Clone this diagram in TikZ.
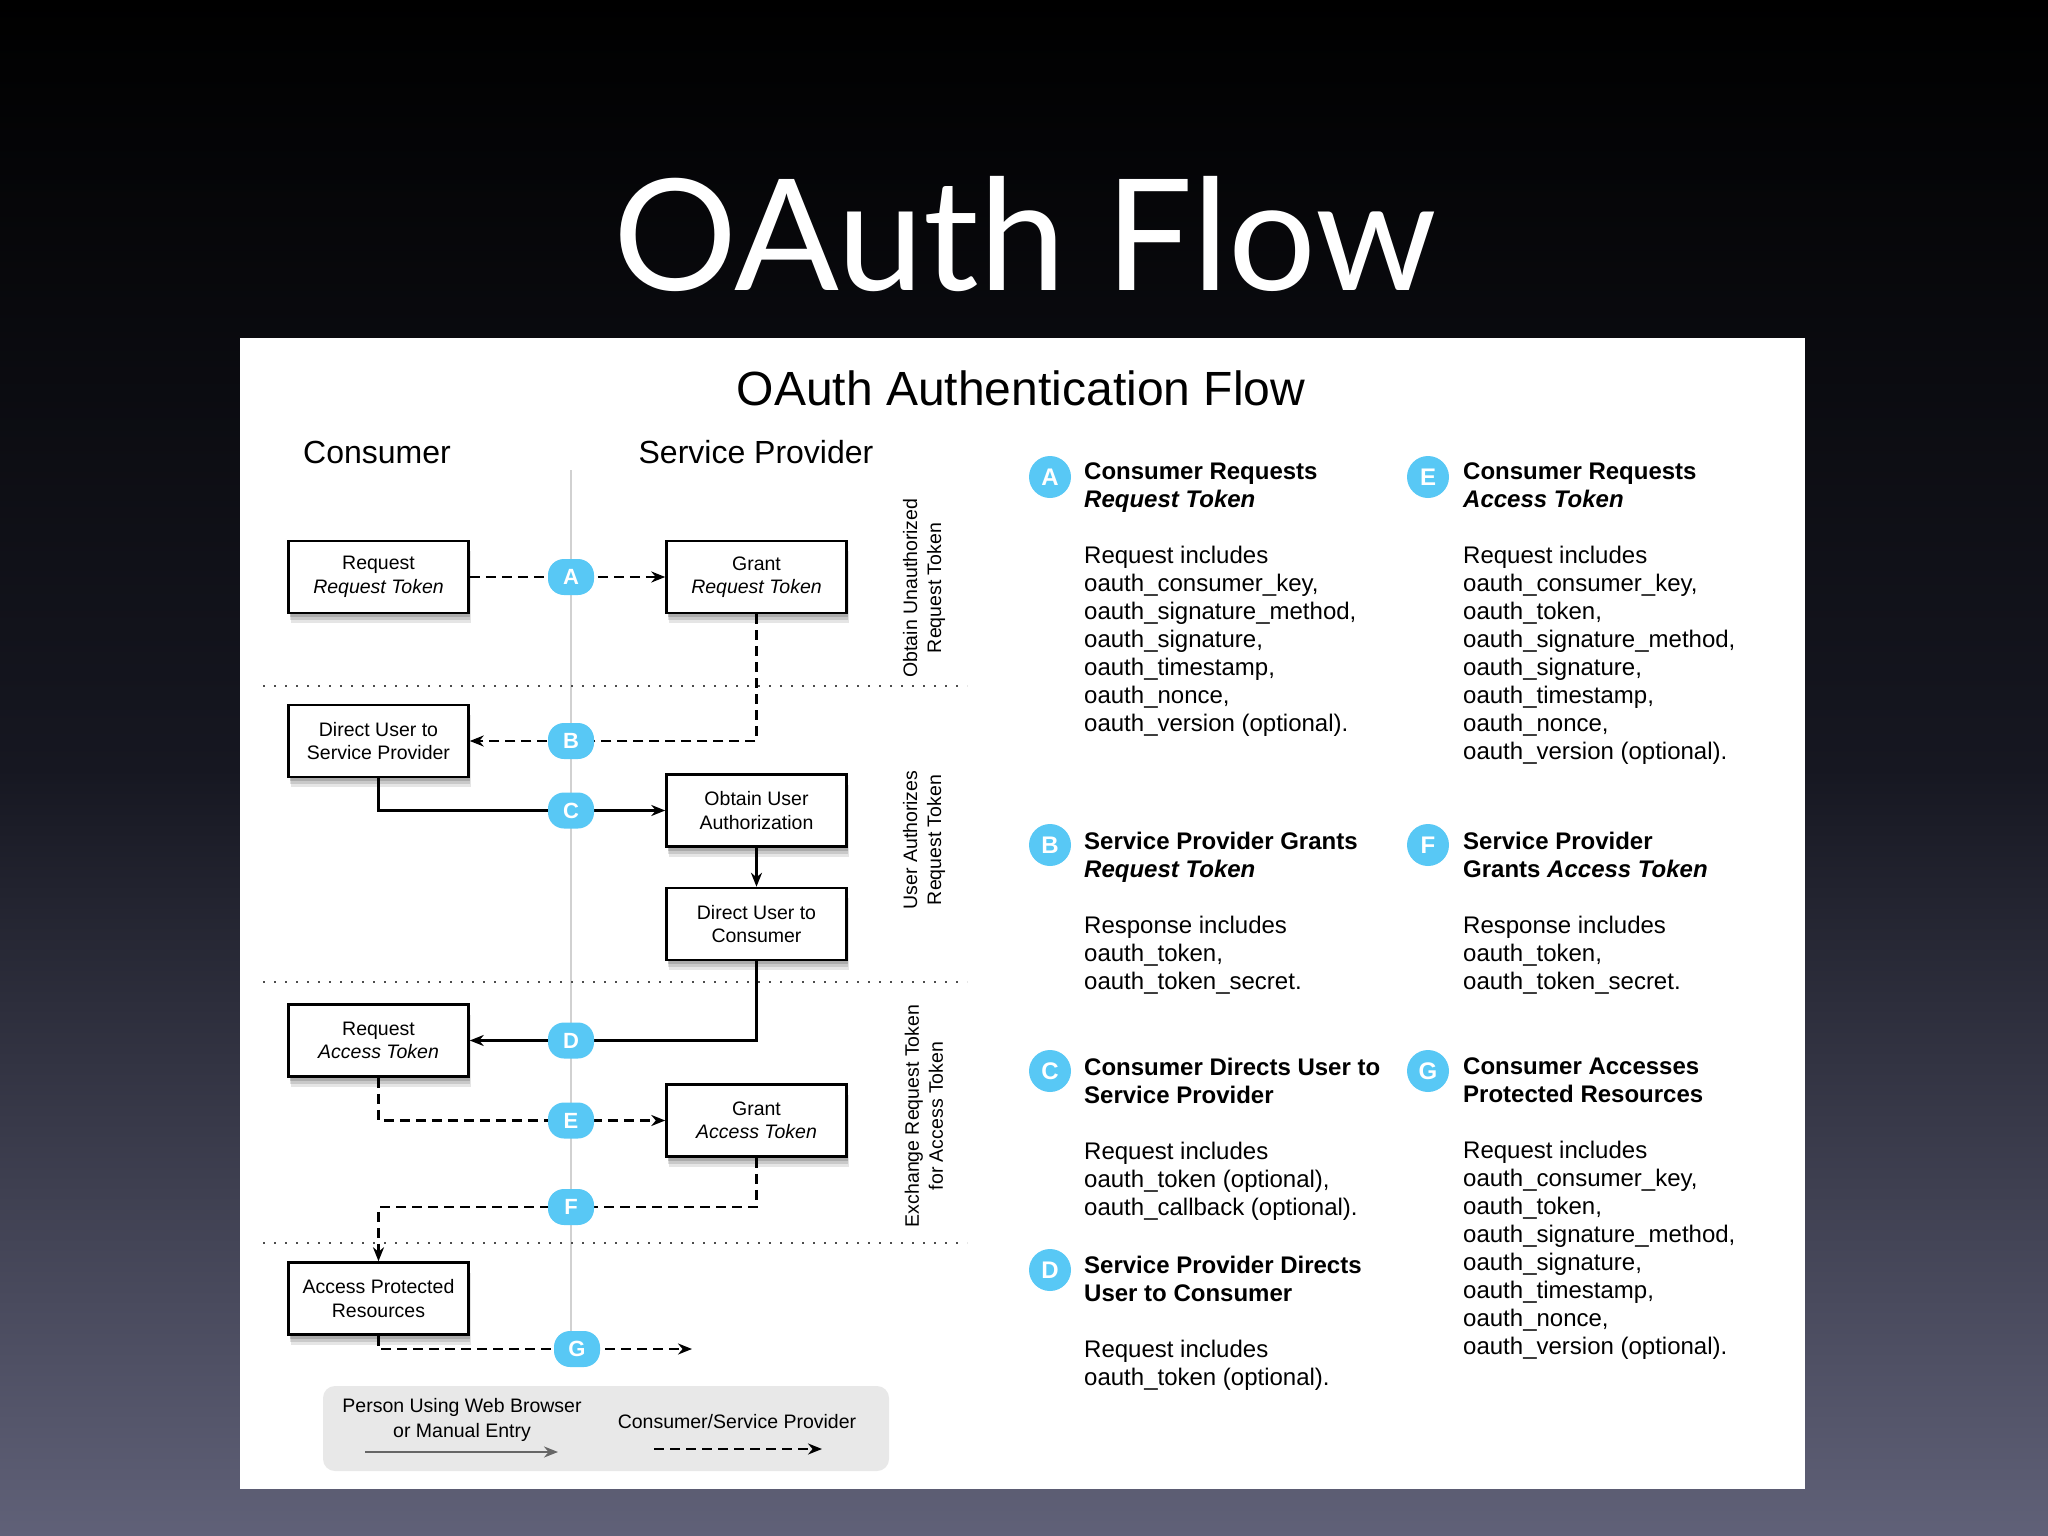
\documentclass[tikz,border=0pt]{standalone}
\usepackage{fontspec}
\setmainfont{Liberation Sans}
\newfontfamily\slidefont{Lato}
\usetikzlibrary{arrows.meta,positioning}
\definecolor{badgeblue}{RGB}{88,200,245}
\definecolor{slidebot}{RGB}{96,97,120}
\definecolor{slidemid}{RGB}{22,23,33}
\definecolor{legendgray}{RGB}{232,232,232}
\tikzset{
    stepbox/.style={
        draw,line width=2.5pt,fill=white,
        minimum width=180pt,minimum height=72pt,
        align=center,font=\fontsize{19.5}{23.5}\selectfont,
        preaction={fill=black,opacity=.10,transform canvas={xshift=2pt,yshift=-10pt}},
        preaction={fill=black,opacity=.12,transform canvas={xshift=1pt,yshift=-7pt}},
        preaction={fill=black,opacity=.15,transform canvas={xshift=1pt,yshift=-4pt}}
    },
    badge/.style={fill=badgeblue,text=white,rounded corners=16pt,
        minimum width=46pt,minimum height=36pt,inner sep=0pt,
        font=\fontsize{22}{22}\selectfont\bfseries},
    keybadge/.style={circle,fill=badgeblue,text=white,
        minimum size=42pt,inner sep=0pt,
        font=\fontsize{24}{24}\selectfont\bfseries},
    >={Stealth[length=14pt,width=11pt]},
    flow/.style={line width=2.5pt,->},
    msg/.style={flow,dash pattern=on 10pt off 6pt},
    separator/.style={line width=2pt,black!70,dash pattern=on 2pt off 9pt},
    lifeline/.style={line width=2.5pt,black!18},
    lane/.style={rotate=90,align=center,font=\fontsize{19.5}{24}\selectfont},
    note/.style={anchor=north west,align=left,inner sep=0pt,
        font=\fontsize{24}{28}\selectfont},
}
\begin{document}
\begin{tikzpicture}[x=1pt,y=-1pt]
    \useasboundingbox (0,0) rectangle (2048,1536);
    \shade[top color=black,bottom color=slidebot,middle color=slidemid] (0,0) rectangle (2048,1536);
    \node[font=\slidefont\fontsize{155}{160}\selectfont,text=white,anchor=base] (slidetitle) at (1025,290) {OAuth Flow};
    \fill[white] (240,338) rectangle (1805,1489);
    \node[font=\fontsize{48}{48}\selectfont,anchor=base] (charttitle) at (1021,405) {OAuth Authentication Flow};
    \node[font=\fontsize{32}{32}\selectfont] (consumer) at (377,452) {Consumer};
    \node[font=\fontsize{32}{32}\selectfont] (provider) at (756,452) {Service Provider};

    % lifeline and phases
    \draw[lifeline] (571,470) -- (571,1340);
    \foreach \y in {686,982,1243}
        \draw[separator] (263,\y) -- (967,\y);

    % steps
    \node[stepbox] (reqRT) at (378.5,577) {Request\\\textit{Request Token}};
    \node[stepbox] (grantRT) at (756.5,577) {Grant\\\textit{Request Token}};
    \node[stepbox] (dirSP) at (378.5,741) {Direct User to\\Service Provider};
    \node[stepbox] (obtain) at (756.5,810.5) {Obtain User\\Authorization};
    \node[stepbox] (dirCons) at (756.5,924) {Direct User to\\Consumer};
    \node[stepbox] (reqAT) at (378.5,1040.5) {Request\\\textit{Access Token}};
    \node[stepbox] (grantAT) at (756.5,1120.5) {Grant\\\textit{Access Token}};
    \node[stepbox] (access) at (378.5,1298.5) {Access Protected\\Resources};

    % flows
    \draw[msg] (reqRT.east) -- (grantRT.west);
    \draw[msg] (grantRT.south) |- (dirSP.east);
    \draw[flow] (dirSP.south) |- (obtain.west);
    \draw[flow] (obtain.south) -- (dirCons.north);
    \draw[flow] (dirCons.south) |- (reqAT.east);
    \draw[msg] (reqAT.south) |- (grantAT.west);
    \coordinate (fturn) at (378.5,1207);
    \draw[msg] (grantAT.south) |- (fturn) -- (access.north);
    \coordinate (gend) at (692,1349);
    \draw[msg] (access.south) |- (gend);

    \foreach \l/\y in {A/577,B/741,C/810.5,D/1040.5,E/1120.5,F/1207}
        \node[badge] (b\l) at (571,\y) {\l};
    \node[badge] (bG) at (577,1349) {G};

    % phase names
    \node[lane] (phase1) at (924,588) {Obtain Unauthorized\\Request Token};
    \node[lane] (phase2) at (924,840) {User Authorizes\\Request Token};
    \node[lane] (phase3) at (924,1116) {Exchange Request Token\\for Access Token};

    % legend
    \node[fill=legendgray,rounded corners=12pt,minimum width=566pt,minimum height=85pt] (legend) at (606,1428.5) {};
    \node[align=center,font=\fontsize{19.5}{25}\selectfont] (legperson) at (462,1420) {Person Using Web Browser\\or Manual Entry};
    \node[font=\fontsize{19.5}{25}\selectfont] (legcsp) at (737,1422) {Consumer/Service Provider};
    \coordinate (lp1) at (365,1452);
    \coordinate (lp2) at (558,1452);
    \draw[flow,black!60] (lp1) -- (lp2);
    \coordinate (lc1) at (654,1449);
    \coordinate (lc2) at (822,1449);
    \draw[msg] (lc1) -- (lc2);

    % key
    \foreach \l/\x/\y in {A/1050/477,B/1050/845,C/1050/1071,D/1050/1270,E/1428/477,F/1428/845,G/1428/1071}
        \node[keybadge] (k\l) at (\x,\y) {\l};
    \node[note] (noteA) at (1084,462.5) {\textbf{Consumer Requests}\\\textbf{\textit{Request Token}}\\[28pt]
        Request includes\\oauth\_consumer\_key,\\oauth\_signature\_method,\\oauth\_signature,\\oauth\_timestamp,\\oauth\_nonce,\\oauth\_version (optional).};
    \node[note] (noteB) at (1084,832) {\textbf{Service Provider Grants}\\\textbf{\textit{Request Token}}\\[28pt]
        Response includes\\oauth\_token,\\oauth\_token\_secret.};
    \node[note] (noteC) at (1084,1057.5) {\textbf{Consumer Directs User to}\\\textbf{Service Provider}\\[28pt]
        Request includes\\oauth\_token (optional),\\oauth\_callback (optional).};
    \node[note] (noteD) at (1084,1255.5) {\textbf{Service Provider Directs}\\\textbf{User to Consumer}\\[28pt]
        Request includes\\oauth\_token (optional).};
    \node[note] (noteE) at (1463,462.5) {\textbf{Consumer Requests}\\\textbf{\textit{Access Token}}\\[28pt]
        Request includes\\oauth\_consumer\_key,\\oauth\_token,\\oauth\_signature\_method,\\oauth\_signature,\\oauth\_timestamp,\\oauth\_nonce,\\oauth\_version (optional).};
    \node[note] (noteF) at (1463,832) {\textbf{Service Provider}\\\textbf{Grants \textit{Access Token}}\\[28pt]
        Response includes\\oauth\_token,\\oauth\_token\_secret.};
    \node[note] (noteG) at (1463,1057.5) {\textbf{Consumer Accesses}\\\textbf{Protected Resources}\\[28pt]
        Request includes\\oauth\_consumer\_key,\\oauth\_token,\\oauth\_signature\_method,\\oauth\_signature,\\oauth\_timestamp,\\oauth\_nonce,\\oauth\_version (optional).};
\end{tikzpicture}
\end{document}
